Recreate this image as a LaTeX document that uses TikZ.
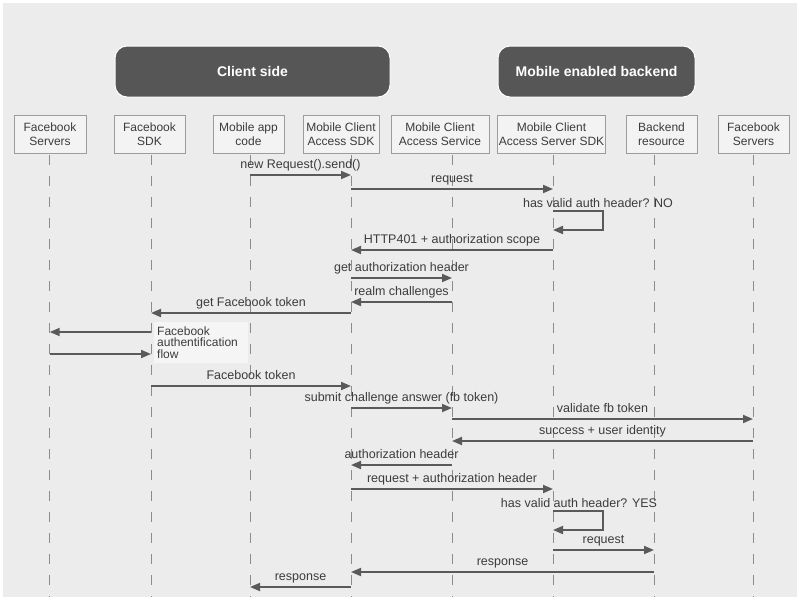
\documentclass[tikz,border=0pt]{standalone}
\usepackage{fontspec}
\setmainfont{Liberation Sans}
\usetikzlibrary{arrows.meta}
\definecolor{bg}{HTML}{ECECEC}
\definecolor{hdr}{HTML}{565656}
\definecolor{boxfill}{HTML}{F3F3F3}
\definecolor{boxline}{HTML}{9C9C9C}
\definecolor{txt}{HTML}{3C3C3C}
\definecolor{arr}{HTML}{5A5A5A}
\definecolor{lifec}{HTML}{8C8C8C}
\definecolor{notefill}{HTML}{F5F5F5}
\tikzset{
  hdrbox/.style={draw=white, line width=1pt, fill=hdr, rounded corners=12pt,
    text=white, font=\fontsize{14}{16}\selectfont\bfseries, minimum height=51pt},
  pbox/.style={draw=boxline, line width=0.7pt, fill=boxfill, align=center, text=txt,
    font=\fontsize{12}{14}\selectfont, minimum height=38pt, inner sep=1pt},
  life/.style={draw=lifec, line width=0.9pt, dash pattern=on 10pt off 11pt},
  msgarrow/.style={draw=arr, line width=1.8pt, -{Triangle[length=10pt,width=8pt]}},
  lbl/.style={above, text=txt, font=\fontsize{12.5}{14}\selectfont, inner xsep=1pt,
    inner ysep=3pt, text depth=3pt, text height=9pt},
  freelbl/.style={anchor=base, text=txt, font=\fontsize{12.5}{14}\selectfont, inner sep=0pt},
  notebox/.style={fill=notefill, anchor=north west, align=left, text=txt,
    font=\fontsize{12}{11.5}\selectfont, text width=88pt, inner sep=3pt, minimum height=41pt}
}
\newcommand\seqmsg[4]{\draw[msgarrow] (L#1 |- 0,#3) -- node[lbl]{#4} (L#2 |- 0,#3);}
\newcommand\selfloop[2]{\draw[msgarrow] (L#1 |- 0,#2) -- ++(50,0) -- ++(0,19) -- (L#1 |- 0,#2+19);}
\begin{document}
\begin{tikzpicture}[x=1pt,y=-1pt]
\useasboundingbox (0,0) rectangle (800,600);
\fill[bg] (3,3) rectangle (797,597);

% headers
\node[hdrbox, minimum width=275pt] (client) at (252.5,71.5) {Client side};
\node[hdrbox, minimum width=197pt] (backend) at (596.5,71.5) {Mobile enabled backend};

% participants
\node[pbox, minimum width=72pt] (p1) at (50,134) {Facebook\\Servers};
\node[pbox, minimum width=71pt] (p2) at (149.5,134) {Facebook\\SDK};
\node[pbox, minimum width=71pt] (p3) at (248.5,134) {Mobile app\\code};
\node[pbox, minimum width=76pt] (p4) at (341,134) {Mobile Client\\Access SDK};
\node[pbox, minimum width=98pt] (p5) at (440,134) {Mobile Client\\Access Service};
\node[pbox, minimum width=107pt] (p6) at (551.5,134) {Mobile Client\\Access Server SDK};
\node[pbox, minimum width=71pt] (p7) at (661.5,134) {Backend\\resource};
\node[pbox, minimum width=71pt] (p8) at (753.5,134) {Facebook\\Servers};

% lifelines
\coordinate (L1) at (49.7,155);
\coordinate (L2) at (151,155);
\coordinate (L3) at (250,155);
\coordinate (L4) at (351,155);
\coordinate (L5) at (452,155);
\coordinate (L6) at (553,155);
\coordinate (L7) at (654,155);
\coordinate (L8) at (753,155);
\coordinate (bot) at (0,597);
\foreach \i in {1,...,8} \draw[life] (L\i) -- (L\i |- bot);

% note
\node[notebox] (note) at (154,322) {Facebook\\authentification\\flow};

% messages
\seqmsg{3}{4}{175}{new Request().send()}
\seqmsg{4}{6}{189}{request}
\node[freelbl] (q1) at (598,207) {has valid auth header? NO};
\selfloop{6}{211}
\seqmsg{6}{4}{250}{HTTP401 + authorization scope}
\seqmsg{4}{5}{278}{get authorization header}
\seqmsg{5}{4}{302}{realm challenges}
\seqmsg{4}{2}{313}{get Facebook token}
\draw[msgarrow] (L2 |- 0,332) -- (L1 |- 0,332);
\draw[msgarrow] (L1 |- 0,354) -- (L2 |- 0,354);
\seqmsg{2}{4}{386}{Facebook token}
\seqmsg{4}{5}{408}{submit challenge answer (fb token)}
\seqmsg{5}{8}{419}{validate fb token}
\seqmsg{8}{5}{441}{success + user identity}
\seqmsg{5}{4}{465}{authorization header}
\seqmsg{4}{6}{489}{request + authorization header}
\node[freelbl] (q2) at (579,507) {has valid auth header? YES};
\selfloop{6}{511}
\seqmsg{6}{7}{550}{request}
\seqmsg{7}{4}{572}{response}
\seqmsg{4}{3}{587}{response}
\end{tikzpicture}
\end{document}
